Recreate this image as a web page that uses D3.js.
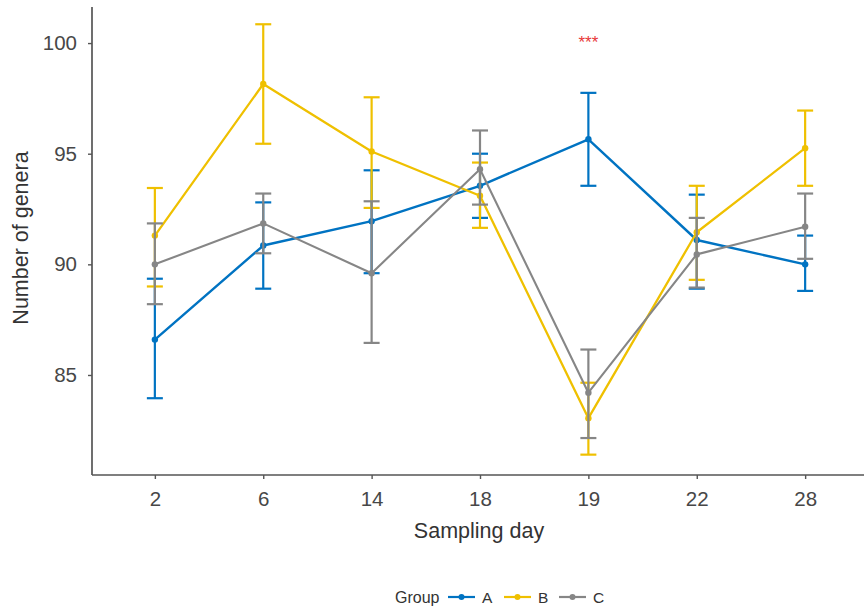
<!DOCTYPE html>
<html>
<head>
<meta charset="utf-8">
<script src="https://cdn.jsdelivr.net/npm/d3@7"></script>
<style>
  body { margin: 0; background: #ffffff; }
  svg { display: block; font-family: "Liberation Sans", Arial, sans-serif; }
</style>
</head>
<body>
<svg id="chart" width="864" height="606"></svg>
<script>
// ---- data ----
const days = ["2", "6", "14", "18", "19", "22", "28"];
const groups = ["A", "B", "C"];
const colors = ["#0073C2", "#EFC000", "#868686"];

const meanA = [86.6, 90.85, 91.95, 93.55, 95.65, 91.1, 90.0];
const lowA  = [83.95, 88.9, 89.6, 92.1, 93.55, 88.9, 88.8];
const highA = [89.35, 92.8, 94.25, 95.0, 97.75, 93.15, 91.3];

const meanB = [91.3, 98.15, 95.1, 93.1, 83.05, 91.45, 95.25];
const lowB  = [89.0, 95.45, 92.55, 91.65, 81.4, 89.3, 93.55];
const highB = [93.45, 100.85, 97.55, 94.6, 84.65, 93.55, 96.95];

const meanC = [90.0, 91.85, 89.6, 94.3, 84.2, 90.45, 91.7];
const lowC  = [88.2, 90.5, 86.45, 92.7, 82.15, 88.95, 90.25];
const highC = [91.85, 93.2, 92.85, 96.05, 86.15, 92.1, 93.2];

const yTicks = [85, 90, 95, 100];
const signifDay = "19";
const signifValue = 100.1;
const signifLabel = "***";

// ---- build ----
const series = [
  { name: "A", color: colors[0], mean: meanA, low: lowA, high: highA, lw: 2.4 },
  { name: "B", color: colors[1], mean: meanB, low: lowB, high: highB, lw: 2.3 },
  { name: "C", color: colors[2], mean: meanC, low: lowC, high: highC, lw: 2.1 }
];

const svg = d3.select("#chart");
const mLeft = 92, mRight = 868, mTop = 7, mBottom = 475;

const x = d3.scalePoint().domain(days).range([mLeft, mRight]).padding(0.58);
const y = d3.scaleLinear().domain([80.48, 101.63]).range([mBottom, mTop]);

const axisColor = "#555555";
const textColor = "#474747";

// axes
const gx = svg.append("g").attr("transform", `translate(0,${mBottom})`)
  .call(d3.axisBottom(x).tickSize(4).tickPadding(12).tickSizeOuter(0));
const gy = svg.append("g").attr("transform", `translate(${mLeft},0)`)
  .call(d3.axisLeft(y).tickValues(yTicks).tickSize(4).tickPadding(11).tickSizeOuter(0));

[gx, gy].forEach(g => {
  g.select(".domain").attr("stroke", axisColor).attr("stroke-width", 1.7);
  g.selectAll(".tick line").attr("stroke", axisColor).attr("stroke-width", 1.4);
  g.selectAll(".tick text").attr("fill", textColor).attr("font-size", 20.5)
    .attr("font-family", "Liberation Sans, Arial, sans-serif");
});
gx.select(".domain").attr("d", `M${mLeft},0H864`);
gy.select(".domain").attr("d", `M0,${mTop}V${mBottom}`);

// axis titles
svg.append("text")
  .attr("x", 479).attr("y", 538)
  .attr("text-anchor", "middle")
  .attr("font-size", 21.5).attr("fill", "#333333")
  .text("Sampling day");
svg.append("text")
  .attr("transform", `translate(28,238) rotate(-90)`)
  .attr("text-anchor", "middle")
  .attr("font-size", 21.5).attr("fill", "#333333")
  .text("Number of genera");

const capHalf = 8;
const plot = svg.append("g");

series.forEach(s => {
  const g = plot.append("g");
  days.forEach((d, i) => {
    const cx = x(d);
    g.append("line").attr("x1", cx).attr("x2", cx)
      .attr("y1", y(s.low[i])).attr("y2", y(s.high[i]))
      .attr("stroke", s.color).attr("stroke-width", 2.2);
    [s.low[i], s.high[i]].forEach(v => {
      g.append("line").attr("x1", cx - capHalf).attr("x2", cx + capHalf)
        .attr("y1", y(v)).attr("y2", y(v))
        .attr("stroke", s.color).attr("stroke-width", 2.2);
    });
  });
  const line = d3.line().x((d, i) => x(days[i])).y(d => y(d));
  g.append("path").datum(s.mean).attr("d", line)
    .attr("fill", "none").attr("stroke", s.color).attr("stroke-width", s.lw)
    .attr("stroke-linejoin", "round");
  g.selectAll("circle").data(s.mean).enter().append("circle")
    .attr("cx", (d, i) => x(days[i])).attr("cy", d => y(d))
    .attr("r", 3.2).attr("fill", s.color);
});

// significance label
svg.append("text")
  .attr("x", x(signifDay)).attr("y", y(signifValue) + 7)
  .attr("text-anchor", "middle")
  .attr("font-size", 17).attr("fill", "#e8393a")
  .text(signifLabel);

// legend
const lg = svg.append("g").attr("transform", "translate(0,597)");
lg.append("text").attr("x", 395).attr("y", 6).attr("font-size", 16)
  .attr("fill", "#333333").text("Group");
const keyStart = [448, 504, 559];
series.forEach((s, i) => {
  const kx = keyStart[i];
  lg.append("line").attr("x1", kx).attr("x2", kx + 27).attr("y1", 0).attr("y2", 0)
    .attr("stroke", s.color).attr("stroke-width", 2.2);
  lg.append("circle").attr("cx", kx + 13.5).attr("cy", 0).attr("r", 3).attr("fill", s.color);
  lg.append("text").attr("x", kx + 34).attr("y", 6).attr("font-size", 15.5)
    .attr("fill", "#333333").text(s.name);
});
</script>
</body>
</html>
